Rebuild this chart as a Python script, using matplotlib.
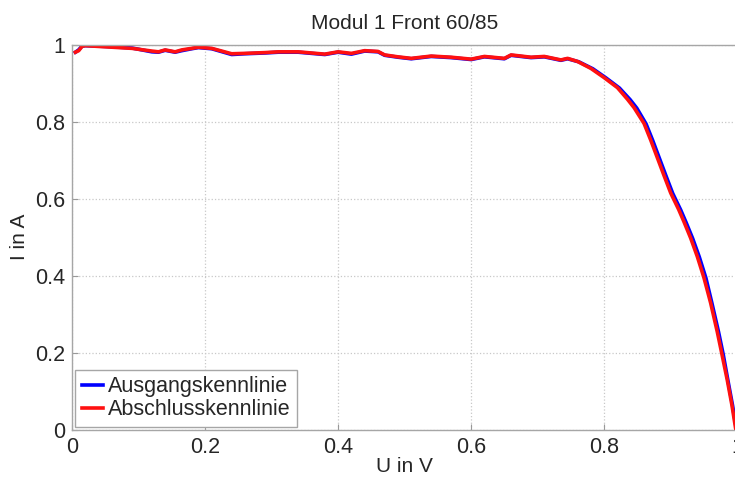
import matplotlib
matplotlib.use('Agg')
import matplotlib.pyplot as plt

# values
u_red = [0.005, 0.010, 0.015, 0.02, 0.05, 0.09, 0.12, 0.13, 0.14, 0.155, 0.165, 0.18, 0.19, 0.21,
         0.24, 0.26, 0.29, 0.31, 0.34, 0.36, 0.38, 0.40, 0.42, 0.44, 0.46, 0.47, 0.49, 0.51, 0.54,
         0.57, 0.60, 0.62, 0.65, 0.66, 0.69, 0.71, 0.735, 0.745, 0.76, 0.78, 0.80, 0.82, 0.835,
         0.845, 0.86, 0.87, 0.88, 0.89, 0.90, 0.905, 0.912, 0.92, 0.93, 0.94, 0.95, 0.96, 0.97,
         0.977, 0.985, 0.992, 0.998]
i_red = [0.980, 0.984, 0.995, 0.997, 0.994, 0.990, 0.983, 0.981, 0.986, 0.981, 0.986, 0.990, 0.993, 0.990,
         0.976, 0.977, 0.979, 0.981, 0.981, 0.978, 0.975, 0.981, 0.977, 0.984, 0.982, 0.973, 0.968, 0.964,
         0.970, 0.967, 0.962, 0.969, 0.964, 0.973, 0.967, 0.969, 0.960, 0.964, 0.956, 0.938, 0.914, 0.888,
         0.858, 0.836, 0.795, 0.752, 0.706, 0.660, 0.615, 0.597, 0.572, 0.540, 0.498, 0.450, 0.395, 0.330,
         0.255, 0.197, 0.130, 0.065, 0.0]

u_blue = [0.005, 0.010, 0.015, 0.02, 0.05, 0.09, 0.12, 0.13, 0.14, 0.155, 0.165, 0.18, 0.19, 0.21,
          0.24, 0.26, 0.29, 0.31, 0.34, 0.36, 0.38, 0.40, 0.42, 0.44, 0.46, 0.47, 0.49, 0.51, 0.54,
          0.57, 0.60, 0.62, 0.65, 0.66, 0.69, 0.71, 0.735, 0.745, 0.762, 0.783, 0.803, 0.823, 0.839,
          0.849, 0.863, 0.873, 0.883, 0.893, 0.903, 0.908, 0.915, 0.923, 0.933, 0.943, 0.953, 0.962, 0.972,
          0.979, 0.986, 0.993, 0.999]
i_blue = [0.980, 0.986, 0.996, 0.997, 0.995, 0.991, 0.981, 0.980, 0.985, 0.980, 0.984, 0.989, 0.992, 0.989,
          0.974, 0.976, 0.978, 0.980, 0.980, 0.977, 0.974, 0.980, 0.975, 0.983, 0.981, 0.972, 0.967, 0.963,
          0.969, 0.966, 0.961, 0.968, 0.963, 0.972, 0.966, 0.968, 0.959, 0.963, 0.955, 0.937, 0.913, 0.887,
          0.857, 0.835, 0.794, 0.751, 0.705, 0.659, 0.614, 0.596, 0.571, 0.539, 0.497, 0.449, 0.394, 0.329,
          0.254, 0.196, 0.129, 0.064, 0.0]

ticks = [0, 0.2, 0.4, 0.6, 0.8, 1]
tick_labels = ['0', '0.2', '0.4', '0.6', '0.8', '1']

plt.rcParams['font.family'] = ['Liberation Sans', 'DejaVu Sans']
txt = '#262626'

fig = plt.figure(figsize=(7.35, 4.78), dpi=100)
ax = fig.add_axes([0.098, 0.1004, 0.905, 0.8065])

ax.plot(u_blue, i_blue, color='#0000ff', lw=2.6, label='Ausgangskennlinie')
ax.plot(u_red, i_red, color='#ff1010', lw=2.6, label='Abschlusskennlinie')

ax.set_xlim(0, 1)
ax.set_ylim(0, 1)
ax.set_xticks(ticks)
ax.set_xticklabels(tick_labels)
ax.set_yticks(ticks)
ax.set_yticklabels(tick_labels)
ax.tick_params(direction='in', length=4, color='#999999', labelsize=15.5, labelcolor=txt, pad=5)
ax.grid(True, linestyle=':', color='#c8c8c8', lw=0.9)
for s in ax.spines.values():
    s.set_color('#a6a6a6')
    s.set_linewidth(1.0)

ax.set_title('Modul 1 Front 60/85', fontsize=15, color=txt, pad=11)
ax.set_xlabel('U in V', fontsize=15, color=txt, labelpad=-1)
ax.set_ylabel('I in A', fontsize=15, color=txt, labelpad=4)

leg = ax.legend(loc='lower left', fontsize=15.5, fancybox=False, framealpha=1,
                edgecolor='#a6a6a6', borderaxespad=0.15, handlelength=1.0,
                handletextpad=0.2, labelspacing=0.1, borderpad=0.3)
for t in leg.get_texts():
    t.set_color(txt)

fig.savefig('out.png', dpi=100)
